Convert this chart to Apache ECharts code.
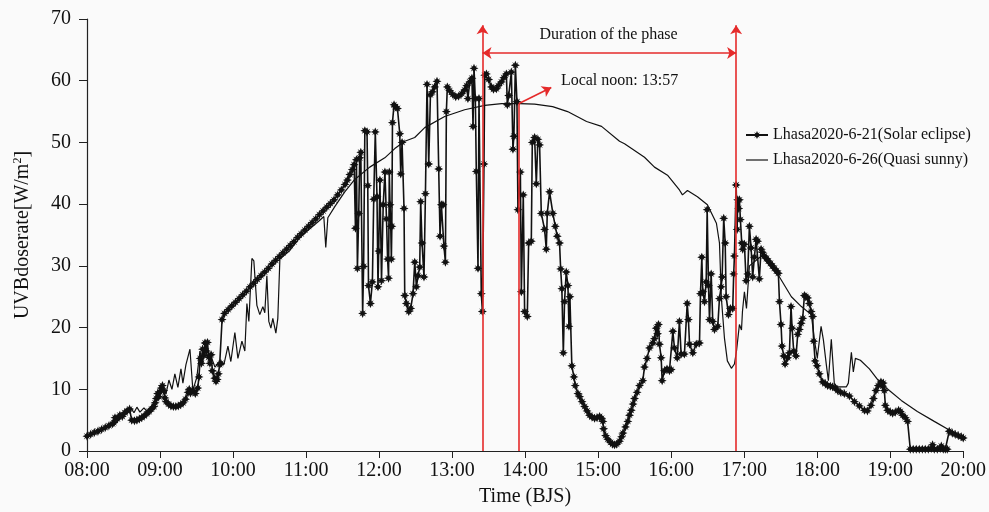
<!DOCTYPE html>
<html>
<head>
<meta charset="utf-8">
<script src="https://cdn.jsdelivr.net/npm/echarts@6/dist/echarts.min.js"></script>
<style>
  html, body { margin: 0; padding: 0; background: #fafafa; }
  #chart { width: 989px; height: 512px; }
</style>
</head>
<body>
<div id="chart"></div>
<script>
// Hour tick labels on the time axis (axis runs in minutes after midnight)
const hourTicks = ['08:00', '09:00', '10:00', '11:00', '12:00', '13:00', '14:00',
                   '15:00', '16:00', '17:00', '18:00', '19:00', '20:00'];

// Lhasa 2020-6-21 (solar eclipse): time in minutes after midnight, UVB dose rate in W/m2
const eclipseTime = [
  480, 483, 486, 489, 492, 495, 498, 501, 502, 503, 505, 507, 509, 511, 513, 515, 516.7,
  519, 521, 523, 525, 527, 529, 531, 533, 535, 536, 537, 538, 539, 540, 541, 542, 543, 544,
  545, 547, 549, 551, 553, 555, 557, 559, 561, 563, 564, 565, 567, 569, 571, 572, 573, 574,
  575, 576, 577, 578, 579, 580, 581, 582, 583, 585, 586, 587, 588, 589, 590, 591, 593, 596,
  599, 602, 605, 608, 611, 614, 617, 620, 623, 626, 629, 632, 635, 638, 641, 644, 647, 650,
  653, 656, 659, 662, 665, 668, 671, 674, 677, 680, 683, 686, 689, 692, 694, 696, 698, 699.5,
  700.6, 701.4, 702.2, 703.3, 704.1, 705, 706.5, 707.3, 708.3, 710.1, 710.7, 711.3, 712.9,
  714.5, 715.6, 716.9, 718.3, 719.1, 719.7, 720.7, 722, 723.4, 724.8, 726.1, 727, 727.8,
  728.4, 729, 729.6, 730.1, 730.5, 731, 732.3, 733.2, 735.1, 737, 737.8, 738.9, 740.5, 741.1,
  742.5, 744.4, 746, 747.9, 749.3, 750.7, 752, 753.4, 754.2, 755.3, 756.9, 758.1, 759.4,
  760.8, 762.2, 763.8, 765.7, 767.6, 769, 770.1, 771.2, 772.5, 773.3, 774.5, 775.3, 776.1,
  778, 780.5, 783, 785.4, 787.9, 790.3, 792, 793, 794.5, 796.3, 797.2, 798, 799.1, 799.9,
  801.3, 802.1, 804, 804.9, 806.2, 806.8, 808.2, 810, 812.3, 814, 816.4, 818, 820.5, 822.5,
  824.6, 825.4, 826.5, 828.7, 830, 830.8, 832, 833.3, 834.1, 836.1, 836.9, 838.5, 839.6,
  841.8, 842.9, 845.1, 845.9, 847.8, 849.2, 850.5, 851.9, 853.3, 856, 857.4, 858.2, 860.1,
  862.8, 864.8, 866.4, 868.3, 869.2, 870.2, 871.4, 872.4, 873.8, 875.2, 876, 876.8, 878.4,
  880.1, 881.2, 883.4, 884.8, 886.8, 888.9, 890.9, 893, 895, 897.1, 899.1, 901.2, 902.8,
  903.9, 904.5, 906.1, 908, 910.2, 911.9, 913.5, 915.2, 917.6, 919.3, 920.4, 922.5, 924.4,
  925.8, 927.2, 928.7, 929.9, 932, 934, 936.7, 938.1, 940.2, 942.2, 944.9, 946.3, 947.7,
  948.8, 949.6, 950.4, 951.8, 952.6, 954.5, 956.6, 958.6, 960, 961.4, 962.7, 965, 966.8,
  968.2, 970.9, 973.2, 974.2, 975.1, 977.8, 980.6, 983.3, 984.1, 985.2, 986, 987.4, 988.8,
  989.6, 990.7, 991.5, 992.9, 994.2, 995.6, 998.3, 999.7, 1001.1, 1001.9, 1003.2, 1004.4,
  1005.2, 1007.1, 1008.7, 1010.6, 1011.4, 1012, 1013.4, 1014.2, 1014.7, 1015.5, 1016.1,
  1016.9, 1018, 1018.8, 1020.2, 1021.6, 1022.9, 1024.3, 1025.7, 1027, 1028.4, 1029.8, 1031.1,
  1032.5, 1033.9, 1035, 1036.6, 1038.3, 1039.9, 1041.6, 1043.2, 1044.8, 1046.5, 1048.1, 1049,
  1050.3, 1051.1, 1052.5, 1053.6, 1055.8, 1057.2, 1058.5, 1059.4, 1060.7, 1062.6, 1064,
  1065.4, 1066.8, 1068.1, 1069.5, 1070.7, 1072.2, 1073.6, 1075, 1076.3, 1077.1, 1078.3,
  1079.9, 1081.8, 1084.5, 1086.7, 1088.6, 1090.8, 1092.7, 1094.9, 1096.8, 1099.3, 1102.3,
  1106.5, 1110.6, 1114.7, 1118.8, 1121.3, 1124.2, 1126.2, 1128.3, 1130.2, 1132.4, 1133.8,
  1134.3, 1135.2, 1136, 1137.9, 1140.1, 1142, 1144.2, 1146.9, 1148.3, 1150.2, 1152.4, 1154.3,
  1156.5, 1158.9, 1161.4, 1163.9, 1166.4, 1168.8, 1171.3, 1173.7, 1174.8, 1176.2, 1178.7,
  1181.1, 1182, 1183.6, 1185.3, 1186.9, 1188.5, 1191, 1193.4, 1195.9, 1198.4, 1200
];
const eclipseUvb = [
  2.4, 2.7, 3.0, 3.2, 3.5, 3.8, 4.1, 4.4, 4.6, 5.4, 5.2, 5.8, 5.6, 6.2, 6.5, 6.8, 5.0,
  4.9, 5.0, 5.2, 5.4, 5.7, 6.0, 6.4, 6.8, 7.2, 7.8, 8.5, 9.3, 8.8, 9.6, 10.2, 10.6, 9.8, 8.6,
  8.0, 7.6, 7.3, 7.2, 7.2, 7.3, 7.5, 7.8, 8.4, 9.5, 10.0, 9.4, 9.8, 9.3, 10.2, 12.0, 15.0, 14.2,
  16.5, 15.5, 17.5, 16.2, 17.6, 15.2, 14.2, 15.6, 13.0, 11.8, 11.3, 11.6, 12.5, 14.0, 14.2, 21.3, 22.3, 22.9,
  23.5, 24.1, 24.7, 25.3, 25.9, 26.6, 27.2, 27.8, 28.4, 29.0, 29.6, 30.3, 30.9, 31.5, 32.1, 32.7, 33.3, 33.9,
  34.6, 35.2, 35.8, 36.4, 37.0, 37.6, 38.3, 38.9, 39.5, 40.1, 40.7, 41.5, 42.3, 43.2, 43.9, 44.8, 45.6, 46.4,
  36.1, 47.2, 29.6, 38.5, 47.5, 48.4, 22.3, 29.9, 51.9, 51.7, 43.0, 26.8, 23.9,
  27.4, 40.8, 51.7, 41.2, 26.6, 32.4, 43.9, 27.6, 39.9, 45.2, 37.6, 31.1, 28.0,
  45.2, 39.9, 36.4, 31.1, 36.4, 53.2, 56.1, 55.8, 55.5, 51.4, 44.9, 50.0, 39.3, 25.2,
  23.9, 22.6, 23.1, 25.5, 30.6, 26.6, 28.4, 29.8, 40.4, 33.7, 28.2, 41.7, 59.4,
  46.5, 57.7, 58.2, 59.0, 59.9, 45.7, 34.8, 39.9, 39.9, 33.2, 30.6, 55.0, 59.0,
  58.4, 57.8, 57.4, 57.5, 57.9, 58.5, 59.2, 57.1, 59.8, 60.4, 52.6, 62.0, 57.1, 45.3,
  29.6, 57.1, 25.5, 22.6, 46.5, 60.9, 61.1, 60.2, 59.0, 58.6, 58.7, 59.2, 59.8, 60.5,
  61.1, 56.1, 57.6, 61.4, 48.9, 51.0, 62.5, 56.6, 39.1, 45.2, 25.8, 41.5, 22.6,
  21.8, 33.7, 34.0, 50.0, 50.8, 43.3, 50.5, 49.6, 38.5, 35.9, 32.7, 38.5, 42.0,
  38.5, 36.4, 34.8, 33.7, 29.5, 26.3, 15.9, 24.2, 29.0, 26.8, 20.2, 25.0, 13.8,
  12.0, 10.6, 9.3, 8.8, 8.0, 7.2, 6.5, 5.8, 5.5, 5.3, 5.4, 5.6, 5.3,
  4.8, 3.6, 2.5, 1.9, 1.4, 1.1, 1.0, 1.1, 1.6, 2.3, 2.9, 3.9, 4.8,
  5.8, 6.6, 7.6, 8.5, 9.5, 10.6, 11.4, 13.6, 15.0, 16.7, 17.5, 18.2, 19.9,
  19.0, 20.5, 17.3, 15.1, 11.4, 13.0, 13.3, 13.0, 13.2, 19.4, 16.7, 15.1, 21.0,
  15.7, 15.7, 23.9, 21.3, 17.3, 15.9, 17.3, 17.5, 25.5, 31.4, 25.8, 24.2, 27.4,
  39.1, 26.8, 21.3, 28.7, 21.0, 19.7, 20.2, 24.7, 26.6, 28.2, 37.7, 33.7,
  25.0, 22.1, 23.1, 23.1, 28.7, 31.6, 43.1, 35.9, 40.7, 39.3, 40.7,
  37.5, 33.7, 32.7, 33.5, 27.6, 28.7, 36.4, 32.9, 28.2, 31.4, 34.3, 34.0,
  27.9, 32.7, 32.2, 31.6, 31.2, 30.8, 30.4, 30.0, 29.6, 29.2, 28.8, 24.2,
  20.5, 17.0, 15.4, 14.1, 15.1, 15.9, 23.4, 19.9, 16.2, 15.4, 18.9,
  19.7, 20.7, 21.5, 25.2, 25.0, 24.8, 23.9, 22.6, 21.8, 17.8, 14.6,
  13.8, 12.5, 11.2, 10.9, 10.6, 10.5, 10.4, 10.2, 9.8, 9.5, 9.3,
  8.9, 8.0, 7.3, 6.6, 6.5, 7.4, 8.5, 9.8, 10.6, 11.2, 10.5,
  11.0, 9.8, 7.4, 6.6, 6.3, 6.1, 6.3, 6.6, 6.4, 5.8, 5.4, 4.8,
  0.3, 0.3, 0.3, 0.3, 0.3, 0.3, 0.3, 0.4, 1.0, 0.3, 0.3,
  0.4, 0.8, 0.3, 0.3, 0.3, 3.2, 2.9, 2.7, 2.5, 2.3, 2.1
];

// Lhasa 2020-6-26 (quasi sunny): time in minutes after midnight, UVB dose rate in W/m2
const sunnyTime = [
  480, 490.7, 501.3, 507.1, 513.7, 516.1, 518.6, 521, 523.5, 526.8, 529.3, 531.7, 535.8,
  539.9, 542.4, 544.9, 547.3, 549.8, 552.2, 554.7, 557.2, 558.8, 561.3, 564.6, 567, 570.3,
  572.8, 575.2, 576.9, 579.3, 581.8, 585.1, 589.2, 592.5, 595.8, 598.2, 601.5, 604, 607.3,
  609.7, 611.4, 613, 615.5, 617.1, 619.6, 622, 624.5, 626.1, 627.8, 629.4, 631.1, 632.7,
  635.2, 636.8, 638.5, 646.7, 654.9, 663.1, 671.3, 674.6, 676.2, 677.9, 683.6, 691.8, 700,
  712.3, 724.7, 732.9, 741.1, 749.3, 757.5, 773.9, 790.3, 806.8, 820.7, 835.5, 847.8, 862.6,
  874.9, 890.5, 902.8, 917.6, 921.7, 938.1, 946.3, 957, 966.8, 969.3, 973.4, 981.6, 989.8,
  997.2, 999.7, 1001.3, 1003.8, 1006.2, 1009.5, 1012, 1013.7, 1016.1, 1017.8, 1018.6, 1020.2,
  1021.9, 1024.3, 1034.2, 1049, 1058.8, 1067, 1075.2, 1077.7, 1080.1, 1083.2, 1085.1, 1087.5,
  1089.2, 1091.6, 1094.1, 1096.6, 1104, 1105.6, 1108.1, 1109.7, 1111.4, 1115.5, 1122.9,
  1131.1, 1139.3, 1149.1, 1162.3, 1176.2, 1188.5, 1200
];
const sunnyUvb = [
  2.3, 3.2, 4.3, 5.2, 6.4, 7.0, 6.2, 7.1, 6.3, 7.0, 6.4, 7.0, 8.0,
  9.3, 10.5, 9.2, 11.5, 10.0, 12.5, 10.3, 13.3, 11.0, 14.0, 16.5, 9.8, 12.0,
  16.2, 14.3, 17.3, 15.0, 15.4, 13.6, 14.5, 14.0, 17.0, 14.5, 19.2, 15.0, 17.8,
  16.2, 23.9, 21.0, 31.2, 30.8, 23.6, 22.1, 23.4, 22.4, 28.4, 21.0, 19.9, 21.5,
  19.1, 21.5, 31.1, 32.5, 34.6, 36.0, 37.4, 38.0, 33.0, 37.8, 39.6, 42.0, 44.0,
  46.0, 47.5, 49.0, 50.2, 50.8, 52.4, 54.2, 55.3, 56.0, 56.3, 56.3, 56.2, 55.8,
  55.0, 53.4, 52.6, 50.2, 49.8, 47.6, 46.0, 44.7, 42.3, 41.5, 42.2, 41.2, 39.9,
  36.9, 33.7, 24.7, 18.3, 14.6, 13.4, 14.1, 16.2, 20.5, 19.6, 22.6, 25.8,
  23.1, 30.0, 31.6, 28.2, 25.0, 23.4, 22.1, 18.0, 15.1, 20.2, 18.0, 14.0,
  11.4, 18.1, 10.9, 10.4, 10.4, 11.0, 16.0, 12.8, 15.0, 14.7, 13.3,
  11.2, 9.8, 8.2, 6.4, 4.8, 3.4, 2.1
];

// Eclipse phase boundaries and local noon (minutes after midnight)
const phaseStart = 805;
const localNoon = 835;
const phaseEnd = 1013.4;

const serif = '"Liberation Serif", "Times New Roman", serif';
const red = '#e52a2a';
const starPath = 'path://M0,-10L2.6,-4.2L7.1,-7.1L4.2,-2.6L10,0L4.2,2.6L7.1,7.1L2.6,4.2L0,10L-2.6,4.2L-7.1,7.1L-4.2,2.6L-10,0L-4.2,-2.6L-7.1,-7.1L-2.6,-4.2Z';
const plainLineIcon = 'path://M0,0L24,0L24,1.3L0,1.3Z';

const chart = echarts.init(document.getElementById('chart'));
chart.setOption({
  animation: false,
  backgroundColor: '#fafafa',
  textStyle: { fontFamily: serif },
  grid: { left: 87, right: 25, top: 19, bottom: 54 },
  legend: {
    orient: 'vertical',
    left: 740,
    top: 122,
    itemWidth: 22,
    itemHeight: 10,
    itemGap: 9,
    textStyle: { fontFamily: serif, fontSize: 16, color: '#111' },
    data: [
      { name: 'Lhasa2020-6-21(Solar eclipse)' },
      { name: 'Lhasa2020-6-26(Quasi sunny)', icon: plainLineIcon }
    ]
  },
  xAxis: {
    type: 'value',
    min: 480, max: 1200, interval: 60,
    name: 'Time (BJS)',
    nameLocation: 'middle',
    nameGap: 36,
    nameTextStyle: { fontFamily: serif, fontSize: 20, color: '#111' },
    axisLine: { lineStyle: { color: '#222', width: 1.2 } },
    axisTick: { length: 7, lineStyle: { color: '#222' } },
    axisLabel: {
      fontFamily: serif, fontSize: 20, color: '#111', margin: 10,
      formatter: v => hourTicks[Math.round((v - 480) / 60)]
    },
    splitLine: { show: false }
  },
  yAxis: {
    type: 'value',
    min: 0, max: 70, interval: 10,
    name: 'UVBdoserate[W/m{sup|2}]',
    nameLocation: 'middle',
    nameGap: 53,
    nameTextStyle: {
      fontFamily: serif, fontSize: 20, color: '#111',
      rich: { sup: { fontFamily: serif, fontSize: 12, color: '#111', padding: [0, 0, 10, 0] } }
    },
    axisLine: { show: true, lineStyle: { color: '#222', width: 1.2 } },
    axisTick: { show: true, length: 8, lineStyle: { color: '#222' } },
    axisLabel: { fontFamily: serif, fontSize: 20, color: '#111', margin: 16 },
    splitLine: { show: false }
  },
  series: [
    {
      name: 'Lhasa2020-6-21(Solar eclipse)',
      type: 'line',
      data: eclipseTime.map((t, i) => [t, eclipseUvb[i]]),
      symbol: starPath,
      symbolSize: 9,
      showAllSymbol: true,
      itemStyle: { color: '#111' },
      lineStyle: { color: '#111', width: 1.6 },
      z: 3
    },
    {
      name: 'Lhasa2020-6-26(Quasi sunny)',
      type: 'line',
      data: sunnyTime.map((t, i) => [t, sunnyUvb[i]]),
      symbol: 'none',
      itemStyle: { color: '#111' },
      lineStyle: { color: '#111', width: 1.2 },
      z: 2,
      markLine: {
        silent: true,
        symbol: ['none', 'arrow'],
        symbolSize: 9,
        label: { show: false },
        lineStyle: { color: red, width: 1.6, type: 'solid' },
        data: [
          [{ coord: [phaseStart, 0] }, { coord: [phaseStart, 69] }],
          [{ coord: [phaseEnd, 0] }, { coord: [phaseEnd, 69] }],
          [{ coord: [localNoon, 0], symbol: 'none' }, { coord: [localNoon, 56.3], symbol: 'none' }],
          [{ coord: [phaseStart, 64.5], symbol: 'arrow' }, { coord: [phaseEnd, 64.5] }],
          [{ coord: [localNoon, 56.3] }, { coord: [861.5, 58.9] }]
        ]
      },
      markPoint: {
        silent: true,
        symbol: 'rect',
        symbolSize: 1,
        itemStyle: { color: 'rgba(0,0,0,0)' },
        label: {
          show: true, position: 'inside', formatter: '{b}',
          fontFamily: serif, fontSize: 16, color: '#111'
        },
        data: [
          { name: 'Duration of the phase', coord: [908.6, 67.4] },
          { name: 'Local noon: 13:57', coord: [917.6, 60.0] }
        ]
      }
    }
  ]
});
</script>
</body>
</html>
